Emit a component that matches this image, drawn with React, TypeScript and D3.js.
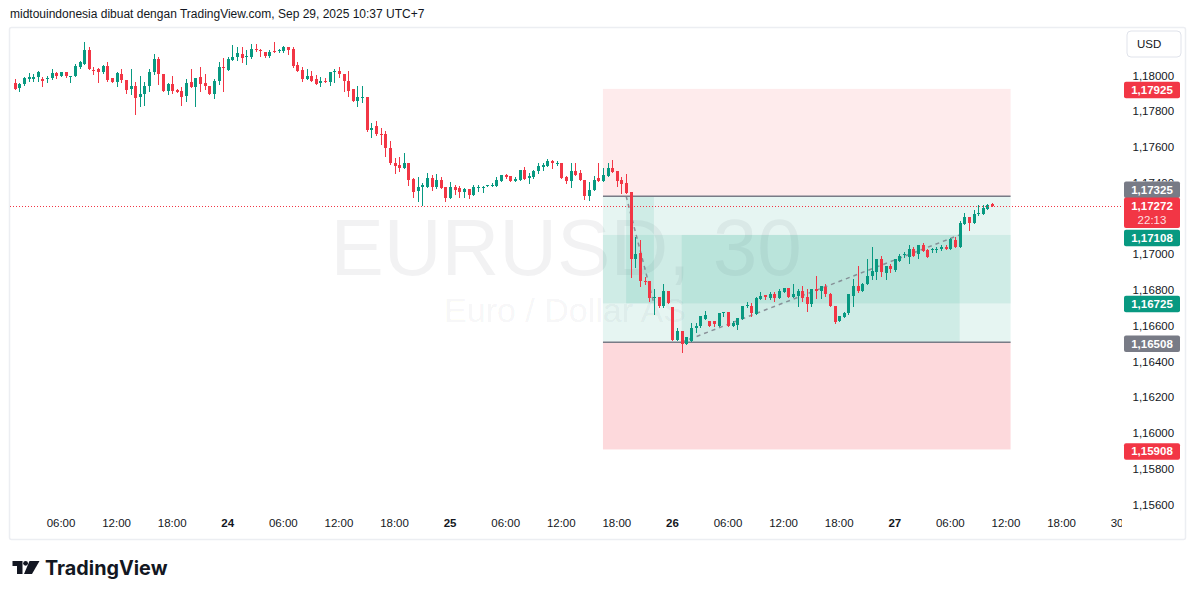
import React from "react";
import * as d3 from "d3";

// ---- data: EURUSD 30m candles (bar 1 = Sep 23 01:00 UTC+7) ----
const opens = [
1.17957,1.17929,1.17950,1.17978,1.17982,1.17991,1.17982,1.17980,1.17985,1.18013,
1.17997,1.18017,1.17997,1.17997,1.18047,1.18066,1.18140,1.18032,1.18034,1.18017,
1.18051,1.17985,1.17963,1.18011,1.17976,1.17924,1.17939,1.17879,1.17898,1.17941,
1.18017,1.18090,1.18011,1.17916,1.17950,1.17920,1.17911,1.17885,1.17963,1.17935,
1.17989,1.17957,1.17944,1.17898,1.17972,1.18047,1.18032,1.18084,1.18103,1.18118,
1.18103,1.18103,1.18149,1.18144,1.18129,1.18108,1.18136,1.18136,1.18136,1.18162,
1.18146,1.18058,1.18028,1.17978,1.17995,1.17978,1.17957,1.17972,1.17963,1.18017,
1.18023,1.18011,1.17972,1.17922,1.17860,1.17873,1.17877,1.17694,1.17715,1.17674,
1.17670,1.17592,1.17508,1.17497,1.17482,1.17513,1.17420,1.17353,1.17379,1.17379,
1.17424,1.17375,1.17413,1.17379,1.17314,1.17379,1.17368,1.17347,1.17364,1.17334,
1.17370,1.17372,1.17383,1.17383,1.17381,1.17411,1.17443,1.17435,1.17411,1.17418,
1.17469,1.17426,1.17431,1.17463,1.17487,1.17493,1.17519,1.17510,1.17513,1.17430,
1.17409,1.17463,1.17454,1.17418,1.17325,1.17360,1.17424,1.17409,1.17437,1.17482,
1.17463,1.17416,1.17398,1.17351,1.16973,1.17006,1.16853,1.16853,1.16756,1.16760,
1.16713,1.16792,1.16704,1.16521,1.16573,1.16499,1.16517,1.16586,1.16596,1.16639,
1.16624,1.16624,1.16601,1.16672,1.16678,1.16601,1.16605,1.16635,1.16713,1.16713,
1.16667,1.16749,1.16771,1.16756,1.16775,1.16756,1.16788,1.16810,1.16760,1.16769,
1.16792,1.16760,1.16723,1.16806,1.16797,1.16816,1.16778,1.16713,1.16626,1.16648,
1.16670,1.16764,1.16825,1.16797,1.16831,1.16881,1.16900,1.16974,1.16896,1.16937,
1.16913,1.16961,1.16999,1.16987,1.17030,1.17002,1.17049,1.17025,1.17021,1.17021,
1.17028,1.17043,1.17032,1.17077,1.17040,1.17170,1.17211,1.17174,1.17224,1.17226,
1.17254,1.17282];
const highs = [
1.17982,1.17959,1.17989,1.18013,1.18008,1.18024,1.17991,1.18000,1.18034,1.18021,
1.18019,1.18017,1.18000,1.18064,1.18079,1.18190,1.18157,1.18045,1.18041,1.18060,
1.18073,1.17987,1.18017,1.18039,1.17976,1.18034,1.17963,1.17997,1.17963,1.18034,
1.18118,1.18103,1.18011,1.17959,1.17995,1.17922,1.17935,1.17982,1.18034,1.17985,
1.18045,1.18008,1.17944,1.17982,1.18073,1.18099,1.18103,1.18170,1.18159,1.18162,
1.18140,1.18174,1.18174,1.18149,1.18131,1.18140,1.18185,1.18149,1.18164,1.18162,
1.18159,1.18073,1.18045,1.18034,1.18026,1.18004,1.17989,1.17987,1.18017,1.18034,
1.18045,1.18011,1.18023,1.17922,1.17939,1.17939,1.17877,1.17737,1.17743,1.17709,
1.17692,1.17635,1.17538,1.17545,1.17569,1.17513,1.17426,1.17431,1.17396,1.17456,
1.17443,1.17448,1.17431,1.17379,1.17402,1.17389,1.17381,1.17368,1.17364,1.17387,
1.17389,1.17383,1.17389,1.17398,1.17430,1.17445,1.17450,1.17435,1.17433,1.17472,
1.17487,1.17454,1.17469,1.17513,1.17513,1.17532,1.17530,1.17524,1.17513,1.17437,
1.17511,1.17511,1.17474,1.17418,1.17403,1.17439,1.17513,1.17482,1.17513,1.17530,
1.17463,1.17431,1.17450,1.17351,1.17098,1.17079,1.16872,1.16853,1.16803,1.16760,
1.16831,1.16792,1.16704,1.16586,1.16573,1.16536,1.16615,1.16615,1.16652,1.16682,
1.16626,1.16629,1.16672,1.16678,1.16678,1.16626,1.16642,1.16710,1.16734,1.16728,
1.16760,1.16788,1.16771,1.16788,1.16788,1.16806,1.16810,1.16810,1.16835,1.16806,
1.16825,1.16806,1.16806,1.16876,1.16820,1.16835,1.16782,1.16713,1.16657,1.16676,
1.16775,1.16863,1.16937,1.16838,1.16971,1.17043,1.16974,1.16991,1.16937,1.16943,
1.16971,1.16999,1.17012,1.17049,1.17043,1.17049,1.17064,1.17030,1.17036,1.17043,
1.17049,1.17054,1.17092,1.17096,1.17185,1.17230,1.17211,1.17245,1.17273,1.17278,
1.17282,1.17285];
const lows = [
1.17922,1.17916,1.17948,1.17972,1.17972,1.17969,1.17944,1.17963,1.17980,1.17985,
1.17995,1.17991,1.17963,1.17997,1.18043,1.18062,1.18034,1.18010,1.17963,1.18013,
1.17967,1.17961,1.17941,1.17963,1.17901,1.17898,1.17784,1.17832,1.17834,1.17916,
1.18010,1.17954,1.17916,1.17898,1.17901,1.17905,1.17834,1.17860,1.17935,1.17832,
1.17916,1.17922,1.17896,1.17873,1.17954,1.17911,1.18028,1.18084,1.18084,1.18073,
1.18062,1.18097,1.18136,1.18110,1.18106,1.18103,1.18129,1.18134,1.18133,1.18118,
1.18047,1.18024,1.17970,1.17978,1.17972,1.17950,1.17941,1.17963,1.17946,1.17963,
1.17993,1.17911,1.17883,1.17856,1.17832,1.17851,1.17692,1.17655,1.17665,1.17614,
1.17549,1.17504,1.17457,1.17463,1.17482,1.17387,1.17323,1.17297,1.17275,1.17379,
1.17362,1.17370,1.17372,1.17297,1.17314,1.17338,1.17320,1.17323,1.17314,1.17334,
1.17353,1.17347,1.17383,1.17383,1.17381,1.17407,1.17426,1.17409,1.17409,1.17413,
1.17422,1.17398,1.17426,1.17456,1.17472,1.17491,1.17485,1.17497,1.17428,1.17398,
1.17375,1.17444,1.17415,1.17310,1.17305,1.17360,1.17409,1.17409,1.17437,1.17459,
1.17381,1.17344,1.17342,1.16872,1.16928,1.16822,1.16831,1.16741,1.16667,1.16704,
1.16704,1.16728,1.16521,1.16521,1.16452,1.16499,1.16517,1.16564,1.16592,1.16639,
1.16601,1.16601,1.16601,1.16657,1.16601,1.16598,1.16583,1.16635,1.16704,1.16655,
1.16667,1.16747,1.16749,1.16749,1.16737,1.16756,1.16788,1.16760,1.16760,1.16713,
1.16736,1.16682,1.16708,1.16756,1.16756,1.16767,1.16708,1.16614,1.16626,1.16648,
1.16667,1.16711,1.16788,1.16797,1.16831,1.16859,1.16864,1.16877,1.16863,1.16900,
1.16905,1.16961,1.16984,1.16952,1.16989,1.16980,1.17017,1.16984,1.17012,1.17015,
1.17025,1.17032,1.17032,1.17040,1.17040,1.17170,1.17138,1.17174,1.17219,1.17226,
1.17254,1.17270];
const closes = [
1.17922,1.17954,1.17985,1.17991,1.17991,1.18019,1.17969,1.17985,1.18013,1.17995,
1.18017,1.17997,1.18000,1.18051,1.18073,1.18140,1.18034,1.18028,1.18017,1.18052,
1.17976,1.17963,1.18013,1.17976,1.17920,1.17939,1.17873,1.17898,1.17944,1.18019,
1.18092,1.18008,1.17916,1.17950,1.17916,1.17907,1.17879,1.17959,1.17935,1.17985,
1.17950,1.17941,1.17896,1.17972,1.18047,1.18041,1.18090,1.18106,1.18125,1.18097,
1.18108,1.18149,1.18140,1.18136,1.18108,1.18134,1.18131,1.18144,1.18159,1.18144,
1.18051,1.18024,1.17978,1.17995,1.17972,1.17955,1.17972,1.17963,1.18017,1.18023,
1.18006,1.17967,1.17916,1.17860,1.17877,1.17877,1.17696,1.17709,1.17670,1.17670,
1.17592,1.17508,1.17491,1.17482,1.17513,1.17415,1.17351,1.17379,1.17387,1.17424,
1.17375,1.17413,1.17372,1.17314,1.17379,1.17362,1.17347,1.17364,1.17333,1.17375,
1.17375,1.17377,1.17389,1.17389,1.17418,1.17441,1.17431,1.17409,1.17422,1.17469,
1.17422,1.17437,1.17463,1.17491,1.17497,1.17519,1.17513,1.17513,1.17428,1.17409,
1.17463,1.17444,1.17415,1.17325,1.17360,1.17418,1.17409,1.17443,1.17482,1.17459,
1.17409,1.17394,1.17342,1.16973,1.17004,1.16851,1.16846,1.16754,1.16760,1.16713,
1.16792,1.16728,1.16521,1.16573,1.16499,1.16536,1.16588,1.16601,1.16652,1.16659,
1.16601,1.16607,1.16672,1.16678,1.16601,1.16615,1.16642,1.16710,1.16717,1.16672,
1.16754,1.16766,1.16760,1.16778,1.16756,1.16792,1.16810,1.16760,1.16775,1.16792,
1.16754,1.16723,1.16803,1.16793,1.16820,1.16775,1.16713,1.16620,1.16652,1.16672,
1.16775,1.16825,1.16792,1.16835,1.16881,1.16905,1.16974,1.16900,1.16937,1.16915,
1.16971,1.16993,1.17002,1.17030,1.16989,1.17049,1.17017,1.16987,1.17027,1.17032,
1.17043,1.17032,1.17083,1.17040,1.17174,1.17211,1.17174,1.17226,1.17228,1.17256,
1.17278,1.17272];

// time axis ticks (bar index -> label)
const tickBars = [11, 23, 35, 47, 59, 71, 83, 95, 107, 119, 131, 143, 155, 167, 179, 191, 203, 215, 227, 239];
const tickLabels = ["06:00", "12:00", "18:00", "24", "06:00", "12:00", "18:00", "25", "06:00", "12:00", "18:00", "26", "06:00", "12:00", "18:00", "27", "06:00", "12:00", "18:00", "30"];
const boldTicks = ["24", "25", "26", "27"];

// price axis ticks (1,17200 sits fully under the live price label, so it is not shown)
const priceTicks = [1.18, 1.178, 1.176, 1.174, 1.17, 1.168, 1.166, 1.164, 1.162, 1.16, 1.158, 1.156];

// position tools
const shortEntry = 1.17325, shortStop = 1.17925, shortTarget = 1.16725;
const longEntry = 1.16508, longStop = 1.15908, longTarget = 1.17108;
const toolBars = [128, 216];
const shortFillBars = [133, 139];
const longFillBars = [145, 205];
const lastPrice = 1.17272;
const countdown = "22:13";

const GREEN = "#089981";
const RED = "#f23645";
const GRAY = "#787b86";
const TXT = "#131722";
const FONT = "'Liberation Sans', Arial, sans-serif";

const fmt = (p: number) => p.toFixed(5).replace(".", ",");

export default function App() {
  const W = 1195, H = 598;
  const x = d3.scaleLinear().domain([1, 239]).range([14.7, 14.7 + 238 * 4.632]);
  const y = d3.scaleLinear().domain([1.18, 1.156]).range([75.5, 504.5]);
  const paneL = 10, paneR = 1122, paneT = 28, paneB = 512;

  const bars = closes.map((c, i) => ({ i: i + 1, o: opens[i], h: highs[i], l: lows[i], c }));

  const greenBand = "rgba(8,153,129,0.1)";
  const redBand = "rgba(242,54,69,0.1)";
  const tx0 = x(toolBars[0]), tx1 = x(toolBars[1]);

  const labels = [
    { p: shortStop, color: RED, dy: 1 },
    { p: shortEntry, color: GRAY, dy: -6.5 },
    { p: longTarget, color: GREEN, dy: 3 },
    { p: shortTarget, color: GREEN, dy: 0.5 },
    { p: longEntry, color: GRAY, dy: 1.5 },
    { p: longStop, color: RED, dy: 2 },
  ];
  const grayTop = y(shortEntry) - 6.5 - 8.25;

  return (
    <svg width={W} height={H} style={{ position: "fixed", left: 0, top: 0, background: "#fff" }} fontFamily={FONT}>
      <defs>
        <clipPath id="pane"><rect x={paneL} y={paneT} width={paneR - paneL} height={paneB - paneT} /></clipPath>
        <clipPath id="taxis"><rect x={paneL} y={paneB} width={paneR - paneL} height={28} /></clipPath>
        <clipPath id="paxis"><rect x={1122} y={paneT} width={64} height={grayTop - paneT} /><rect x={1122} y={250} width={64} height={paneB - 250} /></clipPath>
      </defs>
      <rect x={0} y={0} width={W} height={H} fill="#fff" />
      <text x={10} y={18} fontSize={12} fill={TXT}>midtouindonesia dibuat dengan TradingView.com, Sep 29, 2025 10:37 UTC+7</text>
      <rect x={9.5} y={27.5} width={1176} height={512} fill="none" stroke="#eceef2" strokeWidth={1.5} rx={2} />

      <g clipPath="url(#pane)">
        {/* watermark */}
        <text x={566} y={275} fontSize={80} textAnchor="middle" fill={TXT} fillOpacity={0.055}>EURUSD, 30</text>
        <text x={565} y={322} fontSize={34} textAnchor="middle" fill={TXT} fillOpacity={0.055}>Euro / Dollar AS</text>

        {/* short position tool */}
        <rect x={tx0} width={tx1 - tx0} y={y(shortStop)} height={y(shortEntry) - y(shortStop)} fill={redBand} />
        <rect x={tx0} width={tx1 - tx0} y={y(shortEntry)} height={y(shortTarget) - y(shortEntry)} fill={greenBand} />
        <rect x={x(shortFillBars[0])} width={x(shortFillBars[1]) - x(shortFillBars[0])} y={y(shortEntry)} height={y(shortTarget) - y(shortEntry)} fill={greenBand} />
        {/* long position tool */}
        <rect x={tx0} width={tx1 - tx0} y={y(longEntry)} height={y(longStop) - y(longEntry)} fill="rgba(242,54,69,0.19)" />
        <rect x={tx0} width={tx1 - tx0} y={y(longTarget)} height={y(longEntry) - y(longTarget)} fill={greenBand} />
        <rect x={x(longFillBars[0])} width={x(longFillBars[1]) - x(longFillBars[0])} y={y(longTarget)} height={y(longEntry) - y(longTarget)} fill={greenBand} />
        <line x1={tx0} x2={tx1} y1={y(shortEntry)} y2={y(shortEntry)} stroke={GRAY} strokeWidth={1.5} />
        <line x1={tx0} x2={tx1} y1={y(longEntry)} y2={y(longEntry)} stroke={GRAY} strokeWidth={1.5} />
        <line x1={x(shortFillBars[0])} y1={y(shortEntry)} x2={x(shortFillBars[1])} y2={y(shortTarget)} stroke={GRAY} strokeOpacity={0.8} strokeWidth={1.5} strokeDasharray="4 4" />
        <line x1={x(longFillBars[0])} y1={y(longEntry)} x2={x(longFillBars[1])} y2={y(longTarget)} stroke={GRAY} strokeOpacity={0.8} strokeWidth={1.5} strokeDasharray="4 4" />

        {/* candles */}
        {bars.map((b) => {
          const cx = Math.round(x(b.i));
          const col = b.c >= b.o ? GREEN : RED;
          const yt = Math.round(y(Math.max(b.o, b.c)));
          const yb = Math.round(y(Math.min(b.o, b.c)));
          return (
            <g key={b.i}>
              <line x1={cx + 0.5} x2={cx + 0.5} y1={Math.round(y(b.h))} y2={Math.round(y(b.l)) + 1} stroke={col} strokeWidth={1} />
              <rect x={cx - 1} width={3} y={yt} height={Math.max(1, yb - yt)} fill={col} />
            </g>
          );
        })}

        {/* last price line */}
        <line x1={paneL} x2={paneR} y1={Math.round(y(lastPrice)) + 0.5} y2={Math.round(y(lastPrice)) + 0.5} stroke={RED} strokeWidth={1} strokeDasharray="1 2" />
      </g>

      {/* price axis */}
      <rect x={1127} y={31} width={54} height={26} rx={4} fill="#fff" stroke="#e0e3eb" />
      <text x={1137} y={48} fontSize={11.5} fill={TXT}>USD</text>
      <g clipPath="url(#paxis)">
        {priceTicks.map((p) => (
          <text key={p} x={1132.5} y={y(p) + 4} fontSize={11.5} fill={TXT}>{fmt(p)}</text>
        ))}
      </g>
      {labels.map((lb) => {
        const cy = y(lb.p) + lb.dy;
        return (
          <g key={lb.p}>
            <rect x={1124} y={cy - 8.25} width={56} height={16.5} rx={2} fill={lb.color} />
            <text x={1152} y={cy + 4} fontSize={11.5} fontWeight="bold" fill="#fff" textAnchor="middle">{fmt(lb.p)}</text>
          </g>
        );
      })}
      <g>
        <rect x={1124} y={197.5} width={56} height={30.5} rx={2} fill={RED} />
        <text x={1152} y={210} fontSize={11.5} fontWeight="bold" fill="#fff" textAnchor="middle">{fmt(lastPrice)}</text>
        <text x={1152} y={223.5} fontSize={11.5} fill="#fff" fillOpacity={0.85} textAnchor="middle">{countdown}</text>
      </g>

      {/* time axis */}
      <g clipPath="url(#taxis)">
        {tickBars.map((b, k) => (
          <text key={k} x={x(b)} y={527} fontSize={11.5} textAnchor="middle" fill={TXT}
            fontWeight={boldTicks.includes(tickLabels[k]) ? "bold" : "normal"}>{tickLabels[k]}</text>
        ))}
      </g>

      {/* TradingView logo */}
      <g fill={TXT}>
        <path d="M12.5 561 H22.5 V574 H17 V566 H12.5 Z" />
        <circle cx={25.6} cy={563.3} r={2.4} />
        <path d="M29.5 561 H39.5 L32 574 H24 Z" />
        <text x={45} y={574.5} fontSize={19.8} fontWeight="bold" fontFamily="Inter, 'Noto Sans', sans-serif">TradingView</text>
      </g>
    </svg>
  );
}
